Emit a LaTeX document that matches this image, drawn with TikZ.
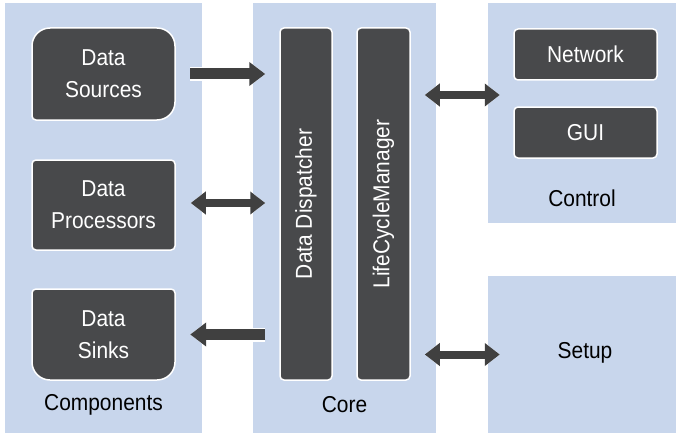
\documentclass[tikz,border=0pt]{standalone}
\usepackage{fontspec}
\setmainfont{Liberation Sans}[FakeStretch=0.91]
\usetikzlibrary{positioning, arrows.meta}

\definecolor{panelblue}{HTML}{C8D6EC}
\definecolor{boxgray}{HTML}{48494B}
\definecolor{arrowgray}{HTML}{404040}

\tikzset{
  panel/.style={fill=panelblue, inner sep=0pt},
  box/.style={fill=boxgray, draw=white, line width=1.5pt, rounded corners=4pt,
    text=white, align=center, inner sep=0pt, font=\fontsize{23}{32}\selectfont},
  boxtext/.style={text=white, align=center, inner sep=0pt, font=\fontsize{23}{32}\selectfont},
  title/.style={font=\fontsize{23}{26}\selectfont},
  flow/.style={draw=arrowgray, line width=11pt, -{Triangle[length=16pt,width=23pt]},
    preaction={draw=white, line width=14pt, -{Triangle[length=19pt,width=28pt]}}},
  dflow/.style={draw=arrowgray, line width=8pt,
    {Triangle[length=15pt,width=22pt]}-{Triangle[length=15pt,width=22pt]},
    preaction={draw=white, line width=11pt,
      {Triangle[length=18pt,width=27pt]}-{Triangle[length=18pt,width=27pt]}}}
}

\begin{document}
\begin{tikzpicture}[x=1pt, y=-1pt]
  \useasboundingbox (0,0) rectangle (676,433);
  % panels
  \node[panel, minimum width=197pt, minimum height=430pt] (comps) at (103.5,218) {};
  \node[panel, minimum width=183pt, minimum height=430pt] (core) at (344.5,218) {};
  \node[panel, minimum width=188pt, minimum height=220pt] (control) at (582,113) {};
  \node[panel, minimum width=188pt, minimum height=157pt] (setup) at (582,354.5) {};

  % components
  \draw[fill=boxgray, draw=white, line width=1.5pt]
    (32,120) [rounded corners=18pt] -- (32,28) -- (175,28) -- (175,120)
    [rounded corners=4pt] -- cycle;
  \node[boxtext, minimum width=143pt, minimum height=92pt] (src) at (103.5,74) {Data\\Sources};
  \node[box, minimum width=143pt, minimum height=90pt] (proc) at (103.5,205) {Data\\Processors};
  \draw[fill=boxgray, draw=white, line width=1.5pt]
    (32,289) [rounded corners=4pt] -- (175,289) [rounded corners=18pt] -- (175,380)
    -- (32,380) [rounded corners=4pt] -- cycle;
  \node[boxtext, minimum width=143pt, minimum height=91pt] (sinks) at (103.5,334.5) {Data\\Sinks};

  % core
  \node[box, minimum width=52pt, minimum height=352pt] (disp) at (306,204) {};
  \node[boxtext, rotate=90] (disptext) at (disp.center) {Data Dispatcher};
  \node[box, minimum width=53pt, minimum height=352pt] (lcm) at (383.5,204) {};
  \node[boxtext, rotate=90] (lcmtext) at (lcm.center) {LifeCycleManager};

  % control
  \node[box, minimum width=143pt, minimum height=51pt] (net) at (585.5,54.5) {Network};
  \node[box, minimum width=143pt, minimum height=51pt] (gui) at (585.5,132.5) {GUI};

  % titles
  \node[title] (comptitle) at (103.5,405) {Components};
  \node[title] (coretitle) at (344.5,405) {Core};
  \node[title] (ctltitle) at (582,198) {Control};
  \node[title] (setuptitle) at (585,353) {Setup};

  % arrows
  \coordinate (ctlin) at ([yshift=18pt]control.west);
  \draw[flow, shorten <=15pt, shorten >=14pt] (src.east) -- (src.east -| disp.west);
  \draw[dflow, shorten <=15pt, shorten >=14pt] ([yshift=2pt]proc.east) -- ([yshift=2pt]proc.east -| disp.west);
  \draw[flow, shorten <=14pt, shorten >=15pt] (sinks.east -| disp.west) -- (sinks.east);
  \draw[dflow, shorten <=14pt, shorten >=-12pt] (lcm.east |- ctlin) -- (ctlin);
  \draw[dflow, shorten <=14pt, shorten >=-12pt] (lcm.east |- setup.west) -- (setup.west);
\end{tikzpicture}
\end{document}
